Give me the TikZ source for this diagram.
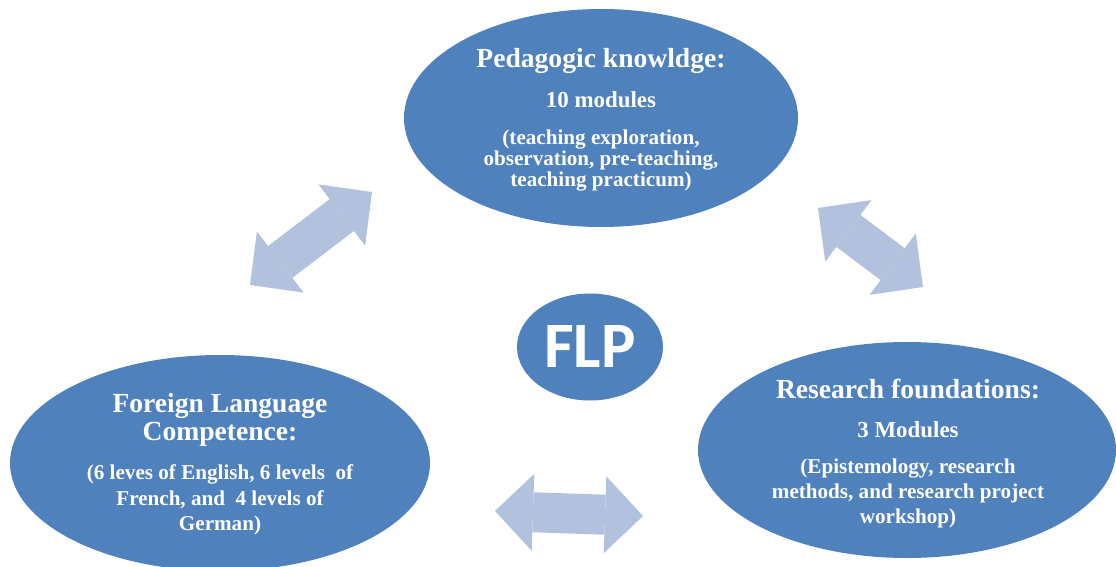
\documentclass[tikz,border=0pt]{standalone}
\usepackage{fontspec}
\setmainfont{Liberation Serif}
\newfontfamily\flpfont{Carlito}
\usetikzlibrary{shapes.geometric}
\usetikzlibrary{arrows.meta}

\definecolor{blobblue}{RGB}{79,129,189}
\definecolor{linkblue}{RGB}{178,194,222}

\begin{document}
\begin{tikzpicture}[
            x=1bp, y=-1bp,
            blob/.style={ellipse,fill=blobblue,inner sep=0pt},
            headtxt/.style={anchor=base,text=white,font=\bfseries\fontsize{27.7}{30}\selectfont},
            subtxt/.style={anchor=base,text=white,font=\bfseries\fontsize{23}{25}\selectfont},
            smalltxt/.style={anchor=base,text=white,font=\bfseries\fontsize{21.2}{23}\selectfont},
            link/.style={line width=40bp,draw=linkblue,
                >={Triangle[length=38bp,width=77bp,line width=0pt]},<->},
            ]
            \useasboundingbox (0,0) rectangle (1116,567);
            
            \node[blob, minimum width=394bp, minimum height=218bp] (ped) at (601,118) {};
            \node[blob, minimum width=420bp, minimum height=216bp] (flc) at (220,463) {};
            \node[blob, minimum width=418bp, minimum height=216bp] (res) at (907,450) {};
            \node[blob, minimum width=146bp, minimum height=107bp, text=white,
                font=\flpfont\bfseries\fontsize{65}{65}\selectfont] (flp) at (590,347) {FLP};
            
            % pedagogic knowledge
            \node[headtxt] (pedhead) at (601,68) {Pedagogic knowldge:};
            \node[subtxt] (pedcount) at (601,108) {10 modules};
            \foreach \t [count=\i] in {{(teaching exploration,},{observation, pre-teaching,},{teaching practicum)}}
                \node[smalltxt] (pedline\i) at (601,124+21*\i) {\t};
            
            % foreign language
            \node[headtxt] (flchead) at (220,412) {Foreign Language};
            \node[headtxt] (flchead2) at (220,440) {Competence:};
            \foreach \t [count=\i] in {{(6 leves of English, 6 levels\ \ of},{French, and\ \ 4 levels of},{German)}}
                \node[smalltxt] (flcline\i) at (220,454+25.5*\i) {\t};
            
            % research
            \node[headtxt] (reshead) at (908,398) {Research foundations:};
            \node[subtxt] (rescount) at (908,437) {3 Modules};
            \foreach \t [count=\i] in {{(Epistemology, research},{methods, and research project},{workshop)}}
                \node[smalltxt] (resline\i) at (908,448+25*\i) {\t};
            
            \coordinate (l1a) at (250,285);
            \coordinate (l1b) at (372,192);
            \coordinate (l2a) at (818,208);
            \coordinate (l2b) at (923,287);
            \coordinate (l3a) at (495,511);
            \coordinate (l3b) at (643,516);
            \draw[link] (l1a) -- (l1b);
            \draw[link] (l2a) -- (l2b);
            \draw[link] (l3a) -- (l3b);
        \end{tikzpicture}
\end{document}
